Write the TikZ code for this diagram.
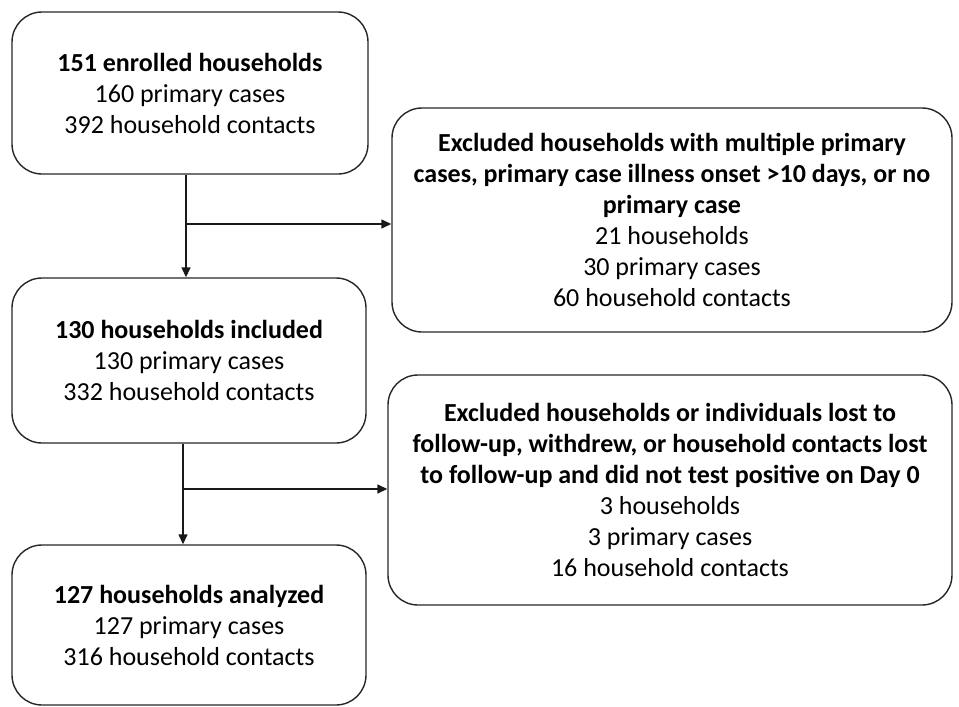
\documentclass[tikz,border=0pt]{standalone}
\usepackage{fontspec}
\setmainfont{Carlito}
\usetikzlibrary{arrows.meta}
\begin{document}
\begin{tikzpicture}[x=1pt,y=-1pt,
  box/.style={draw=black!85, line width=1.4pt, rounded corners=30pt, align=center,
    font=\fontsize{26}{31}\selectfont, inner sep=0pt},
  conn/.style={line width=1.4pt, draw=black!90},
  arr/.style={conn, -{Triangle[length=10pt,width=9pt]}}]
\useasboundingbox (0,0) rectangle (959,707);
\node[box, minimum width=356pt, minimum height=162pt] (b1) at (190,93)
  {\textbf{151 enrolled households}\\160 primary cases\\392 household contacts};
\node[box, minimum width=354pt, minimum height=165pt] (b3) at (189,360.5)
  {\textbf{130 households included}\\130 primary cases\\332 household contacts};
\node[box, minimum width=354pt, minimum height=160pt] (b5) at (189,625)
  {\textbf{127 households analyzed}\\127 primary cases\\316 household contacts};
\node[box, minimum width=560pt, minimum height=224pt] (b2) at (672,220)
  {\textbf{Excluded households with multiple primary}\\
   \textbf{cases, primary case illness onset >10 days, or no}\\
   \textbf{primary case}\\21 households\\30 primary cases\\60 household contacts};
\node[box, minimum width=564pt, minimum height=230pt] (b4) at (670,490)
  {\textbf{Excluded households or individuals lost to}\\
   \textbf{follow-up, withdrew, or household contacts lost}\\
   \textbf{to follow-up and did not test positive on Day 0}\\3 households\\3 primary cases\\16 household contacts};
\coordinate (j1) at (186,224);
\coordinate (j2) at (183,489);
\draw[arr] (b1.south -| j1) -- (b3.north -| j1);
\draw[arr] (j1) -- (b2.west |- j1);
\draw[arr] (b3.south -| j2) -- (b5.north -| j2);
\draw[arr] (j2) -- (b4.west |- j2);
\end{tikzpicture}
\end{document}
